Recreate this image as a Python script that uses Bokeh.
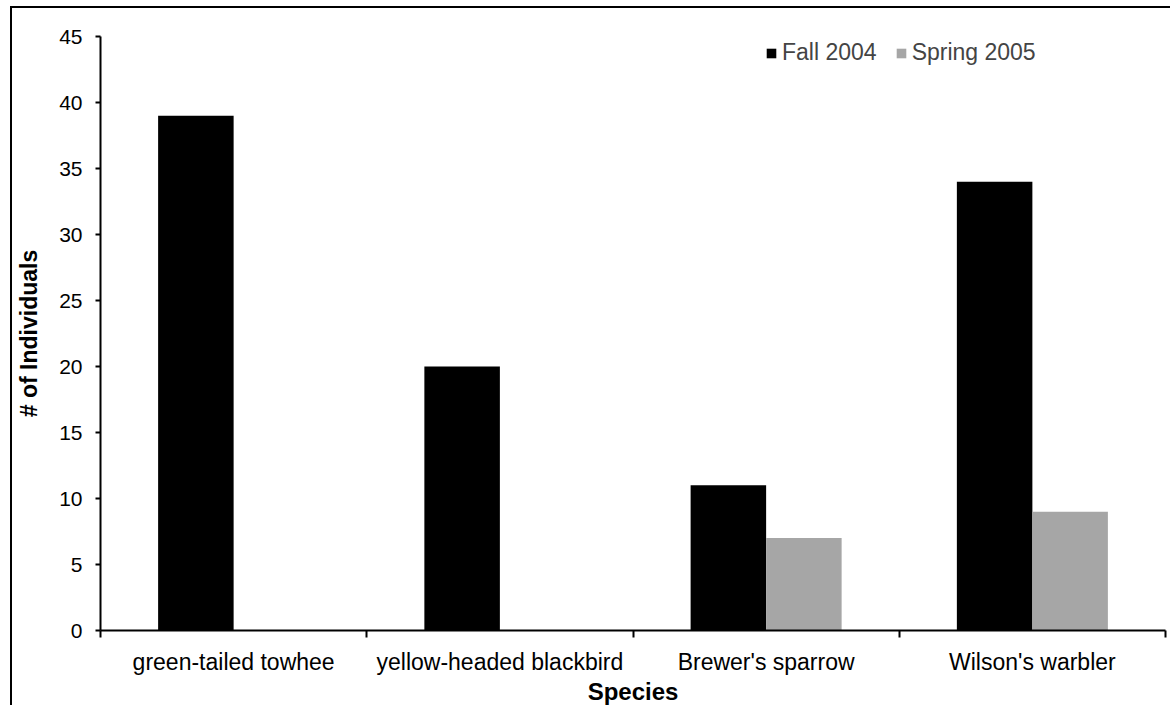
from bokeh.plotting import figure
from bokeh.models import (ColumnDataSource, Range1d, FixedTicker, Legend, LegendItem)
from bokeh.transform import dodge
from bokeh.embed import file_html
from bokeh.resources import INLINE

species = ["green-tailed towhee", "yellow-headed blackbird", "Brewer's sparrow", "Wilson's warbler"]
fall_2004 = [39, 20, 11, 34]
spring_2005 = [0, 0, 7, 9]
series_names = ["Fall 2004", "Spring 2005"]
y_ticks = [0, 5, 10, 15, 20, 25, 30, 35, 40, 45]

FONT = "Liberation Sans"
BAR_W = 0.2836

# category i occupies [i, i+1] on a numeric axis; its center carries the label
centers = [i + 0.5 for i in range(len(species))]
bounds = [float(i) for i in range(len(species) + 1)]

source = ColumnDataSource(dict(pos=centers, species=species, fall=fall_2004, spring=spring_2005))

p = figure(width=1160, height=699, output_backend="svg", toolbar_location=None,
           x_range=Range1d(0, len(species)), y_range=Range1d(0, 45),
           min_border_left=88, min_border_right=7, min_border_top=28, min_border_bottom=73)
p.styles = {"border-left": "2px solid black", "border-top": "2px solid black",
            "margin-left": "10px", "margin-top": "6px"}
p.outline_line_color = None
p.background_fill_color = "white"
p.border_fill_color = "white"
p.xgrid.visible = False
p.ygrid.visible = False

r_fall = p.vbar(x=dodge("pos", -BAR_W / 2), top="fall", width=BAR_W,
                source=source, fill_color="black", line_color=None)
r_spring = p.vbar(x=dodge("pos", BAR_W / 2), top="spring", width=BAR_W,
                  source=source, fill_color="#A6A6A6", line_color=None)

# y axis
yax = p.yaxis[0]
yax.ticker = FixedTicker(ticks=y_ticks)
yax.minor_tick_line_color = None
yax.major_tick_out = 5
yax.major_tick_in = 0
yax.major_tick_line_width = 2
yax.axis_line_width = 2
yax.major_label_standoff = 13
yax.major_label_text_font = FONT
yax.major_label_text_font_size = "21px"
yax.major_label_text_color = "black"
yax.axis_label = "# of Individuals"
yax.axis_label_text_font = FONT
yax.axis_label_text_font_style = "bold"
yax.axis_label_text_font_size = "23px"
yax.axis_label_text_color = "black"
yax.axis_label_standoff = 14

# x axis: labels at category centers, ticks at category boundaries
xax = p.xaxis[0]
xax.ticker = FixedTicker(ticks=centers, minor_ticks=bounds)
xax.major_label_overrides = {c: s for c, s in zip(centers, species)}
xax.major_tick_out = 0
xax.major_tick_in = 0
xax.minor_tick_out = 7
xax.minor_tick_in = 0
xax.minor_tick_line_width = 2
xax.minor_tick_line_color = "black"
xax.axis_line_width = 2
xax.major_label_standoff = 11
xax.major_label_text_font = FONT
xax.major_label_text_font_size = "23px"
xax.major_label_text_color = "black"
xax.axis_label = "Species"
xax.axis_label_text_font = FONT
xax.axis_label_text_font_style = "bold"
xax.axis_label_text_font_size = "24px"
xax.axis_label_text_color = "black"
xax.axis_label_standoff = 0

legend = Legend(items=[LegendItem(label=series_names[0], renderers=[r_fall]),
                       LegendItem(label=series_names[1], renderers=[r_spring])],
                orientation="horizontal", location=(665, 564),
                glyph_width=12, glyph_height=12, label_standoff=5, spacing=18,
                padding=0, margin=0, border_line_color=None, background_fill_alpha=0,
                label_text_font=FONT, label_text_font_size="23px", label_height=20)
p.add_layout(legend, "center")

open("out.html", "w").write(file_html(p, INLINE))
